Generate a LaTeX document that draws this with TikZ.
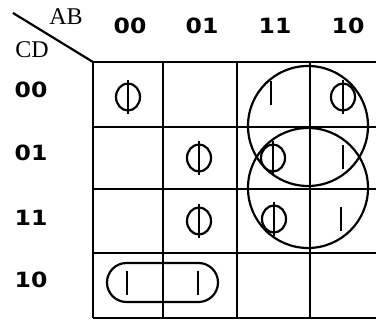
\documentclass[tikz,border=0pt]{standalone}
\usepackage{fontspec}
\newfontfamily\digitfont{DejaVu Sans}[FakeStretch=1.12]
\newfontfamily\varfont{Liberation Serif}
\tikzset{
  kline/.style={line width=2.2pt},
  digits/.style={font=\digitfont\bfseries\fontsize{21}{21}\selectfont},
  vars/.style={font=\varfont\fontsize{24}{24}\selectfont},
  dc/.pic={
    \draw[kline] (0,0) ellipse (12 and 13.5);
    \draw[kline] (0,-17) -- (0,17);
  },
  one/.pic={
    \draw[kline] (0,-12) -- (0,12);
  }
}
\begin{document}
\begin{tikzpicture}[x=1pt,y=-1pt]
    \useasboundingbox (0,0) rectangle (376,323);

    % Corner with the variable names
    \node[vars] (ab) at (66,17) {AB};
    \node[vars] (cd) at (32,50) {CD};
    \draw[kline] (13,13) -- (93,62);

    % Column and row headings
    \node[digits] (c00) at (130,26) {00};
    \node[digits] (c01) at (202,26) {01};
    \node[digits] (c11) at (275,26) {11};
    \node[digits] (c10) at (348,26) {10};
    \node[digits] (r00) at (31,90) {00};
    \node[digits] (r01) at (31,153) {01};
    \node[digits] (r11) at (31,218) {11};
    \node[digits] (r10) at (31,280) {10};

    % The grid
    \draw[kline] (93,62) -- (93,318);
    \draw[kline] (163,62) -- (163,318);
    \draw[kline] (237,62) -- (237,318);
    \draw[kline] (310,62) -- (310,318);
    \draw[kline] (93,62) -- (376,62);
    \draw[kline] (93,127) -- (376,127);
    \draw[kline] (93,189) -- (376,189);
    \draw[kline] (93,253) -- (376,253);
    \draw[kline] (93,318) -- (376,318);

    % Don't-care entries
    \coordinate (m0) at (128,97);
    \coordinate (m5) at (199,158);
    \coordinate (m7) at (199,221);
    \coordinate (m13) at (273,158);
    \coordinate (m15) at (274,219);
    \coordinate (m8) at (343,97);
    \pic at (m0) {dc};
    \pic at (m5) {dc};
    \pic at (m7) {dc};
    \pic at (m13) {dc};
    \pic at (m15) {dc};
    \pic at (m8) {dc};

    % Ones
    \coordinate (m12) at (271,93);
    \coordinate (m9) at (343,157);
    \coordinate (m11) at (341,219);
    \coordinate (m2) at (127,283);
    \coordinate (m6) at (198,283);
    \pic at (m12) {one};
    \pic at (m9) {one};
    \pic at (m11) {one};
    \pic at (m2) {one};
    \pic at (m6) {one};

    % Groupings
    \draw[kline] (308,126) circle (60);
    \draw[kline] (308,188) circle (60);
    \draw[kline, rounded corners=19.5pt] (107,263) rectangle (218,302);
\end{tikzpicture}
\end{document}
